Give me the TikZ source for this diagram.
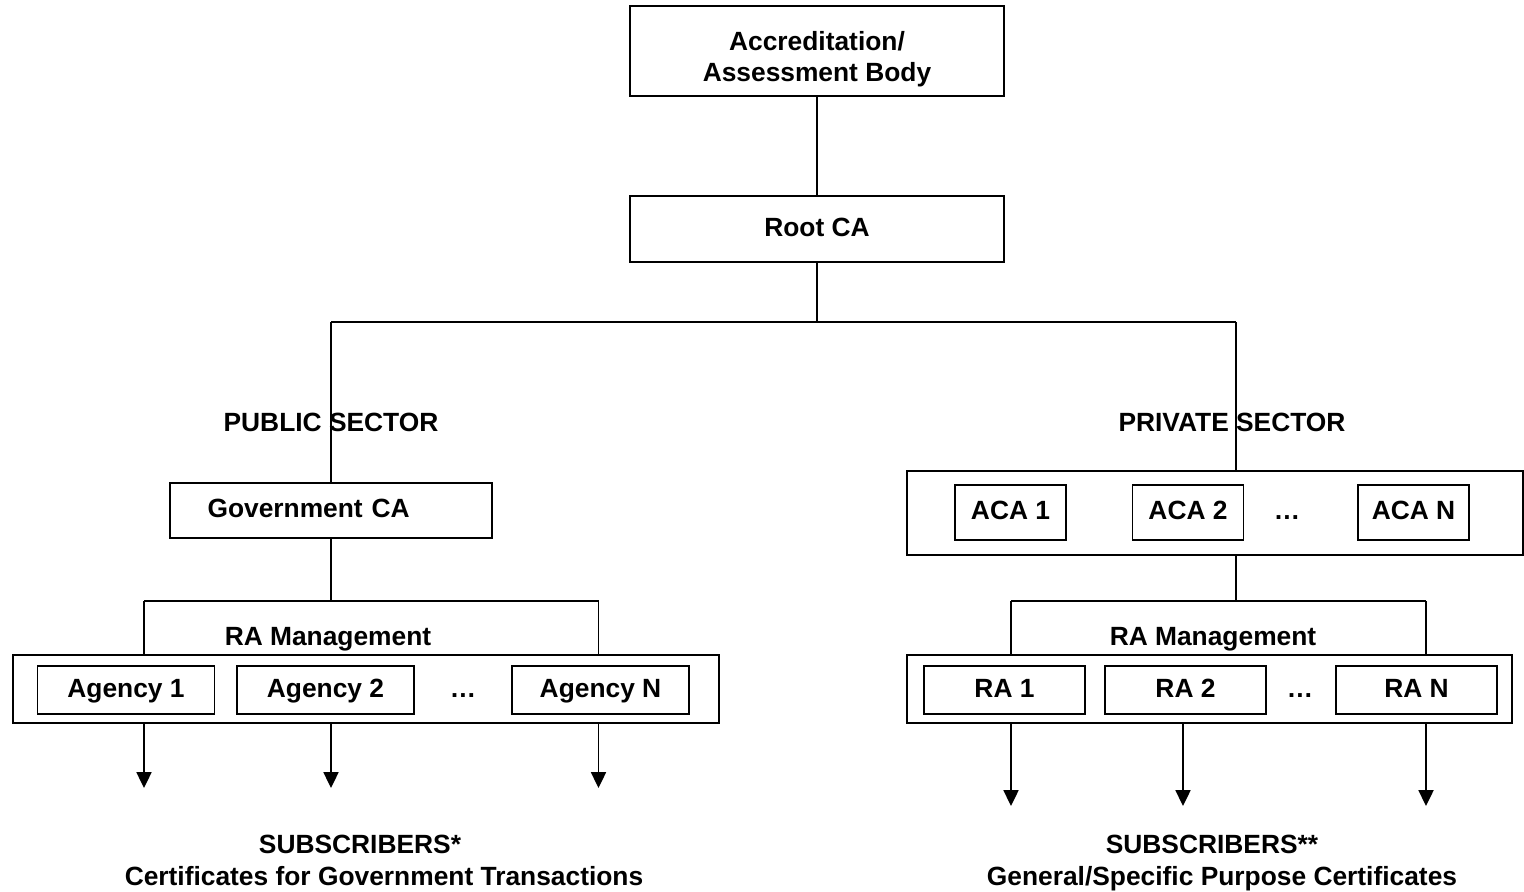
\documentclass[tikz,border=0pt]{standalone}
\usepackage{fontspec}
\setmainfont{Liberation Sans}
\usetikzlibrary{arrows.meta}

\begin{document}
\begin{tikzpicture}[x=0.02cm, y=-0.02cm, >={Triangle[length=9pt,width=8.5pt]},
    font=\fontsize{15}{17.6}\selectfont\bfseries,
    frame/.style={draw, line width=1.1pt, inner sep=0pt},
    tb/.style={text height=1.0em, text depth=0.16em},
    box/.style={frame, tb},
    link/.style={line width=1.1pt},
    lbl/.style={inner sep=0pt, tb}]
    \useasboundingbox (0,0) rectangle (1524,892);
    % top of the tree
    \node[frame, align=center, minimum width=7.48cm, minimum height=1.8cm] (acc) at (817,51) {\rule{0pt}{20pt}Accreditation/\\Assessment Body};
    \node[box, minimum width=7.48cm, minimum height=1.32cm] (root) at (817,229) {Root CA};
    \draw[link] (acc) -- (root);
    \coordinate (busl) at (331,322);
    \coordinate (busr) at (1236,322);
    \draw[link] (root.south) -- (root.south |- busl);
    \draw[link] (busl) -- (busr);
    \node[lbl] (pub) at (331,424) {PUBLIC SECTOR};
    \node[lbl] (priv) at (1232,424) {PRIVATE SECTOR};
    % public sector
    \node[box, minimum height=1.1cm, inner xsep=0.75cm, text width=4.94cm, align=left] (gov) at (331,510.5) {Government CA};
    \draw[link] (busl) -- (busl |- gov.north);
    \node[box, minimum width=14.12cm, minimum height=1.354cm] (agbox) at (366,688.85) {};
    \node[box, minimum width=3.54cm, minimum height=0.966cm] (ag1) at (126,690) {Agency 1};
    \node[box, minimum width=3.54cm, minimum height=0.966cm] (ag2) at (325.5,690) {Agency 2};
    \node[box, minimum width=3.54cm, minimum height=0.966cm] (agn) at (600.5,690) {Agency N};
    \node[lbl] (agdots) at (463,690) {\ldots};
    \node[lbl] (raml) at (328,638) {RA Management};
    \coordinate (gl) at (144,601);
    \coordinate (gr) at (598.5,601);
    \draw[link] (gov.south) -- (gov.south |- gl);
    \draw[link] (gl) -- (gr);
    \draw[link] (gl) -- (gl |- agbox.north);
    \draw[link] (gr) -- (gr |- agbox.north);
    \coordinate (s1) at (144,788);
    \coordinate (s2) at (331,788);
    \coordinate (s3) at (598.5,788);
    \foreach \s in {s1,s2,s3}
      \draw[link,->] (\s |- agbox.south) -- (\s);
    \node[lbl] (subl) at (360,846) {SUBSCRIBERS*};
    \node[lbl] (subltxt) at (384,878) {Certificates for Government Transactions};
    % private sector
    \node[box, minimum width=12.32cm, minimum height=1.686cm] (acabox) at (1214.7,512.85) {};
    \node[box, minimum width=2.22cm, minimum height=1.1cm] (aca1) at (1010.5,512.5) {ACA 1};
    \node[box, minimum width=2.22cm, minimum height=1.1cm] (aca2) at (1188,512.5) {ACA 2};
    \node[box, minimum width=2.22cm, minimum height=1.1cm] (acan) at (1413.5,512.5) {ACA N};
    \node[lbl] (acadots) at (1287,512.5) {\ldots};
    \draw[link] (busr) -- (busr |- acabox.north);
    \node[box, minimum width=12.114cm, minimum height=1.354cm] (rabox) at (1209.5,688.85) {};
    \node[box, minimum width=3.22cm, minimum height=0.966cm] (ra1) at (1004.5,690) {RA 1};
    \node[box, minimum width=3.22cm, minimum height=0.966cm] (ra2) at (1185.5,690) {RA 2};
    \node[box, minimum width=3.22cm, minimum height=0.966cm] (ran) at (1416.5,690) {RA N};
    \node[lbl] (radots) at (1300,690) {\ldots};
    \node[lbl] (ramr) at (1213,638) {RA Management};
    \coordinate (rl) at (1011,601);
    \coordinate (rr) at (1426,601);
    \draw[link] (acabox.south -| busr) -- (rl -| busr);
    \draw[link] (rl) -- (rr);
    \draw[link] (rl) -- (rl |- rabox.north);
    \draw[link] (rr) -- (rr |- rabox.north);
    \coordinate (t1) at (1011,806);
    \coordinate (t2) at (1183,806);
    \coordinate (t3) at (1426,806);
    \foreach \t in {t1,t2,t3}
      \draw[link,->] (\t |- rabox.south) -- (\t);
    \node[lbl] (subr) at (1212,846) {SUBSCRIBERS**};
    \node[lbl] (subrtxt) at (1222,878) {General/Specific Purpose Certificates};
\end{tikzpicture}
\end{document}
